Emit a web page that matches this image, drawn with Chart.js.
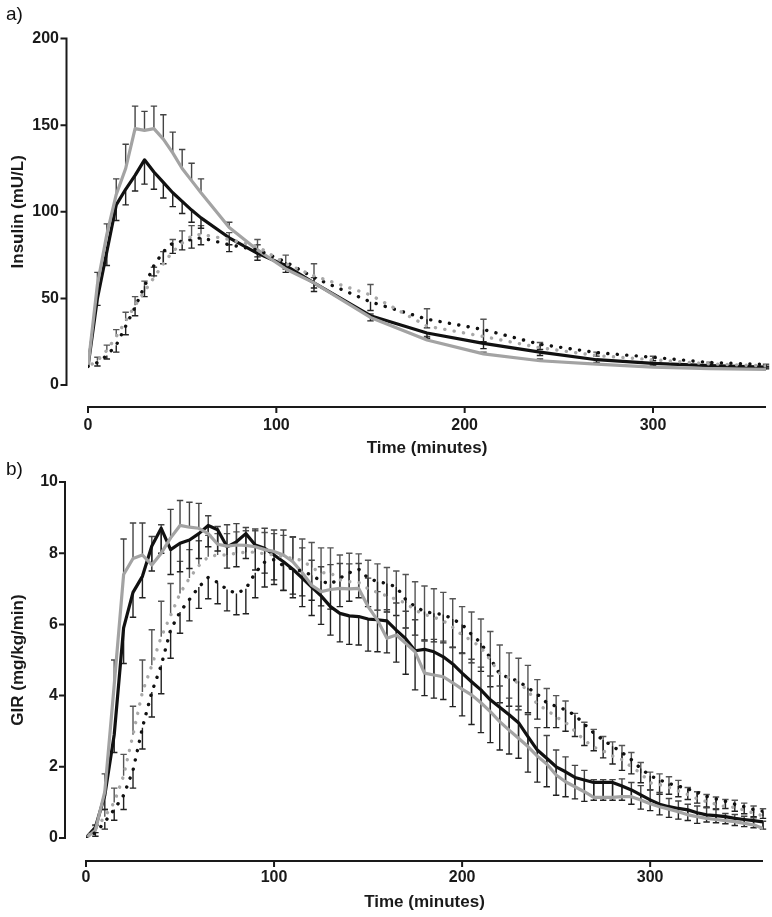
<!DOCTYPE html>
<html><head><meta charset="utf-8">
<script src="https://cdn.jsdelivr.net/npm/chart.js@4.4.1/dist/chart.umd.min.js"></script>
<style>
html,body{margin:0;padding:0;background:#fff;}
#wrap{position:relative;width:772px;height:917px;overflow:hidden;background:#fff;}
.panel{position:absolute;left:0;width:772px;}
.lab{position:absolute;font-family:"Liberation Sans",Arial,sans-serif;font-size:19px;line-height:19px;color:#111;}
</style></head><body>
<div id="wrap">
<div class="panel" style="top:0;height:460px"><canvas id="c1" width="772" height="460"></canvas></div>
<div class="panel" style="top:440px;height:477px"><canvas id="c2" width="772" height="477"></canvas></div>
<div class="lab" style="left:6px;top:4px">a)</div>
<div class="lab" style="left:6px;top:459px">b)</div>
</div>
<script>
// ---------- DATA ----------
const xTicks = [0, 100, 200, 300];
const insulinTicks = [0, 50, 100, 150, 200];
const girTicks = [0, 2, 4, 6, 8, 10];

const insulinTimes = [0,5,10,15,20,25,30,35,40,45,50,55,60,75,90,105,120,150,180,210,240,270,300,330,360];
const insulinBlackSolid  = [10.7,50,77,104,113,121,130,123,117,111,106,101,96.5,85,76,69,59,40,30,24,19,14.6,12.5,11.2,10.3];
const insulinGraySolid   = [10.7,58,87,110,125,148,147,148,142,134,125,118,111,91,78,67,59,39,26,18,14,12,10.3,9.5,9];
const insulinBlackDotted = [10.7,13,17,23,34,45,57,69,77,82,83,84,85,81,78,71,62,48,38,32,23.5,18.7,16,13,11.8];
const insulinGrayDotted  = [10.7,14,20,28,37,46,54,62,70,77,82,86,87,84,80,70,63,52,34,28,21.5,17,14.6,12.2,11];
const insulinBlackSolidErr  = [0,4,8,9,9,9,14,10,9,8,7,7,6,4,4,4,5,3,3,3,2,2,1,1,1];
const insulinGraySolidErr   = [0,7,6,9,14,13,11,13,14,12,11,10,8,3,3,3,3,2,2,1,1,1,1,1,1];
const insulinBlackDottedErr = [0,2,2,4,5,5,6,6,7,6,5,5,4,4,4,4,6,5,5,7,3,2,2,1,1];
const insulinGrayDottedErr  = [0,2,3,4,5,5,6,6,7,7,7,6,5,4,4,5,7,6,10,10,3,2,2,1,1];

const girTimes = [0,5,10,15,20,25,30,35,40,45,50,55,60,65,70,75,80,85,90,95,100,105,110,115,120,125,130,135,140,145,150,155,160,165,170,175,180,185,190,195,200,205,210,215,220,225,230,235,240,245,250,255,260,265,270,275,280,285,290,295,300,305,310,315,320,325,330,335,340,345,350,355,360];
const girBlackSolid = [0,0.3,1.2,2.9,5.9,6.9,7.35,8.2,8.7,8.1,8.28,8.37,8.55,8.78,8.66,8.18,8.32,8.55,8.23,8.14,7.95,7.76,7.55,7.3,7.05,6.8,6.5,6.31,6.24,6.22,6.15,6.13,6.1,5.84,5.6,5.26,5.3,5.23,5.09,4.89,4.63,4.39,4.16,3.88,3.67,3.46,3.24,2.85,2.47,2.24,2.0,1.86,1.7,1.63,1.56,1.56,1.56,1.46,1.35,1.21,1.07,0.95,0.88,0.83,0.79,0.71,0.65,0.63,0.6,0.55,0.52,0.49,0.45];
const girGraySolid = [0,0.22,1.3,4.3,7.4,7.85,7.95,7.67,8.0,8.43,8.78,8.73,8.7,8.55,8.25,8.2,8.23,8.22,8.18,8.1,8.05,7.95,7.76,7.45,7.1,6.92,6.98,7.01,7.0,7.01,6.5,6.12,5.61,5.7,5.47,5.23,4.63,4.58,4.53,4.36,4.18,4.02,3.8,3.55,3.27,3.03,2.8,2.57,2.3,2.08,1.77,1.58,1.44,1.3,1.14,1.14,1.14,1.16,1.16,1.07,0.96,0.88,0.81,0.74,0.65,0.6,0.55,0.52,0.49,0.46,0.41,0.37,0.27];
const girBlackDotted = [0,0.15,0.45,0.8,1.2,1.9,3.1,4.1,4.85,5.85,6.35,6.7,7.05,7.32,7.18,6.98,6.87,7.0,7.45,7.75,7.82,7.65,7.55,7.5,7.38,7.22,7.13,7.3,7.45,7.55,7.3,7.2,7.15,7.05,6.7,6.5,6.36,6.31,6.28,6.15,6.0,5.72,5.48,5.05,4.6,4.5,4.4,4.22,4.04,3.8,3.7,3.6,3.45,3.2,2.95,2.75,2.58,2.4,2.2,1.95,1.75,1.63,1.53,1.46,1.38,1.28,1.17,1.1,1.03,0.95,0.88,0.8,0.75];
const girGrayDotted = [0,0.25,0.6,1.0,1.75,2.9,4.1,4.85,5.65,6.25,6.87,7.3,7.65,7.9,7.95,7.95,8.0,8.03,8.03,7.98,7.95,7.9,7.85,7.8,7.6,7.45,7.45,7.25,7.2,7.18,7.0,6.9,6.8,6.7,6.6,6.4,6.28,6.2,6.1,5.92,5.7,5.55,5.35,5.0,4.62,4.5,4.35,4.15,3.75,3.6,3.4,3.25,3.0,2.75,2.55,2.45,2.3,2.2,2.0,1.82,1.55,1.5,1.42,1.32,1.22,1.1,1.02,0.95,0.88,0.86,0.78,0.7,0.62];
const girBlackSolidErr = [0,0.15,0.4,0.5,1.0,0.7,0.6,0.7,0.7,0.7,0.8,0.8,0.7,0.6,0.6,0.6,0.7,0.7,0.7,0.7,0.7,0.8,0.8,0.8,0.8,0.8,0.8,0.8,0.8,0.8,0.9,0.9,0.9,0.9,1.0,1.1,1.3,1.3,1.2,1.2,1.2,1.2,1.2,1.2,1.2,1.1,1.0,1.0,0.9,0.8,0.8,0.7,0.6,0.6,0.5,0.5,0.5,0.4,0.4,0.4,0.3,0.3,0.3,0.3,0.3,0.3,0.2,0.2,0.2,0.2,0.2,0.2,0.2];
const girGraySolidErr = [0,0.15,0.5,0.7,1.0,1.0,0.9,0.8,0.8,0.8,0.7,0.7,0.7,0.5,0.5,0.6,0.6,0.5,0.5,0.6,0.6,0.7,0.7,0.7,0.7,0.7,0.7,0.7,0.7,0.7,0.8,0.8,0.8,0.9,0.9,0.9,0.9,1.0,1.0,1.0,1.0,1.0,1.0,1.0,1.0,0.9,0.9,0.9,0.8,0.8,0.7,0.7,0.6,0.6,0.5,0.5,0.5,0.5,0.4,0.4,0.4,0.4,0.3,0.3,0.3,0.3,0.3,0.3,0.2,0.2,0.2,0.2,0.2];
const girBlackDottedErr = [0,0.1,0.2,0.3,0.4,0.5,0.6,0.7,0.8,0.8,0.6,0.6,0.6,0.6,0.6,0.6,0.6,0.7,0.7,0.7,0.7,0.7,0.7,0.7,0.7,0.7,0.7,0.8,0.8,0.8,0.8,0.8,0.8,0.8,0.8,0.8,0.8,0.8,0.8,0.8,0.8,0.8,0.8,0.8,0.8,0.8,0.8,0.7,0.7,0.7,0.6,0.6,0.6,0.6,0.5,0.5,0.5,0.5,0.4,0.4,0.4,0.4,0.3,0.3,0.3,0.3,0.3,0.3,0.2,0.2,0.2,0.2,0.2];
const girGrayDottedErr = [0,0.1,0.2,0.4,0.6,0.8,0.9,1.0,1.0,0.9,0.9,0.8,0.7,0.6,0.6,0.6,0.6,0.6,0.6,0.6,0.6,0.6,0.6,0.6,0.7,0.7,0.7,0.7,0.8,0.8,0.8,0.8,0.8,0.8,0.8,0.8,0.8,0.8,0.8,0.8,0.8,0.8,0.8,0.8,0.8,0.7,0.7,0.7,0.7,0.6,0.6,0.6,0.5,0.5,0.5,0.4,0.4,0.4,0.4,0.3,0.3,0.3,0.3,0.3,0.2,0.2,0.2,0.2,0.2,0.2,0.2,0.2,0.2];

// ---------- STYLE ----------
const FONT = '"Liberation Sans", Arial, Helvetica, sans-serif';
const INK = '#1a1a1a';
const BLACK = '#111111';
const GRAY = '#a3a3a3';
const GRAY_DOT = '#a8a8a8';

Chart.defaults.font.family = FONT;
Chart.defaults.color = INK;

function pts(times, vals) { return times.map((t, i) => ({x: t, y: vals[i]})); }

function makeSets(times, bs, gs, bd, gd, bsE, gsE, bdE, gdE) {
  return [
    {data: pts(times, gd), borderColor: GRAY_DOT, borderWidth: 3.4, borderDash: [0.1, 9.4], borderDashOffset: 4.7, borderCapStyle: 'round',
     errors: gdE, errDir: 1, errColor: '#555'},
    {data: pts(times, bd), borderColor: BLACK, borderWidth: 3.4, borderDash: [0.1, 9.4], borderCapStyle: 'round',
     errors: bdE, errDir: -1, errColor: '#222'},
    {data: pts(times, gs), borderColor: GRAY, borderWidth: 3.2, errors: gsE, errDir: 1, errColor: '#444'},
    {data: pts(times, bs), borderColor: BLACK, borderWidth: 3.2, errors: bsE, errDir: -1, errColor: '#222'}
  ].map(d => Object.assign({pointRadius: 0, tension: 0, fill: false, borderJoinStyle: 'round'}, d));
}

const errorBars = {
  id: 'errorBars',
  beforeDatasetsDraw(chart) {
    const ctx = chart.ctx, xs = chart.scales.x, ys = chart.scales.y;
    chart.data.datasets.forEach(ds => {
      if (!ds.errors) return;
      ctx.save();
      ctx.strokeStyle = ds.errColor; ctx.lineWidth = 1.4;
      ds.data.forEach((p, i) => {
        const e = ds.errors[i]; if (!e) return;
        const x = xs.getPixelForValue(p.x);
        const y0 = ys.getPixelForValue(p.y);
        const y1 = ys.getPixelForValue(p.y + ds.errDir * e);
        ctx.beginPath();
        ctx.moveTo(x, y0); ctx.lineTo(x, y1);
        ctx.moveTo(x - 3.2, y1); ctx.lineTo(x + 3.2, y1);
        ctx.stroke();
      });
      ctx.restore();
    });
  }
};

const offsetAxes = {
  id: 'offsetAxes',
  afterDraw(chart, args, opts) {
    const {ctx, chartArea} = chart;
    const xs = chart.scales.x, ys = chart.scales.y;
    const ax = chartArea.left - opts.gapX, ay = chartArea.bottom + opts.gapY;
    ctx.save();
    ctx.strokeStyle = INK; ctx.lineWidth = 2;
    ctx.beginPath();
    ctx.moveTo(ax, ys.getPixelForValue(ys.max) - 1); ctx.lineTo(ax, ys.getPixelForValue(ys.min) + 1);
    ys.ticks.forEach(t => { const y = ys.getPixelForValue(t.value); ctx.moveTo(ax - 6, y); ctx.lineTo(ax, y); });
    ctx.moveTo(xs.getPixelForValue(xs.min) - 1, ay); ctx.lineTo(xs.getPixelForValue(xs.max), ay);
    xs.ticks.forEach(t => { const x = xs.getPixelForValue(t.value); ctx.moveTo(x, ay); ctx.lineTo(x, ay + 6); });
    ctx.stroke();
    ctx.restore();
  }
};

function makeChart(id, cfg) {
  return new Chart(document.getElementById(id), {
    type: 'line',
    data: {datasets: cfg.datasets},
    plugins: [errorBars, offsetAxes],
    options: {
      responsive: false, animation: false, events: [],
      layout: {padding: {top: cfg.top, right: cfg.right, left: 0, bottom: 0}},
      plugins: {legend: {display: false}, tooltip: {enabled: false},
                offsetAxes: {gapX: cfg.gapX, gapY: cfg.gapY}},
      scales: {
        x: {
          type: 'linear', min: 0, max: 360,
          afterBuildTicks: s => { s.ticks = xTicks.map(v => ({value: v})); },
          afterFit: s => { s.height = cfg.xH; },
          grid: {display: false, drawTicks: false}, border: {display: false},
          ticks: {padding: cfg.xTickPad, font: {size: 16, weight: 'bold'}, color: INK, maxRotation: 0, autoSkip: false},
          title: {display: true, text: 'Time (minutes)', font: {size: 17, weight: 'bold'}, color: INK,
                  padding: {top: 0, bottom: cfg.xTitlePad}}
        },
        y: {
          type: 'linear', min: cfg.yMin, max: cfg.yMax,
          afterBuildTicks: s => { s.ticks = cfg.yTicks.map(v => ({value: v})); },
          afterFit: s => { s.width = cfg.yW; },
          grid: {display: false, drawTicks: false}, border: {display: false},
          ticks: {padding: cfg.yTickPad, font: {size: 16, weight: 'bold'}, color: INK},
          title: {display: true, text: cfg.yTitle, font: {size: 17, weight: 'bold'}, color: INK,
                  padding: {top: 8, bottom: 0}}
        }
      }
    }
  });
}

makeChart('c1', {
  datasets: makeSets(insulinTimes, insulinBlackSolid, insulinGraySolid, insulinBlackDotted, insulinGrayDotted,
                     insulinBlackSolidErr, insulinGraySolidErr, insulinBlackDottedErr, insulinGrayDottedErr),
  top: 29, right: 6, xH: 75, yW: 88, gapX: 21.5, gapY: 22,
  xTickPad: 31, xTitlePad: 1, yTickPad: 29,
  yMin: 0, yMax: 200, yTicks: insulinTicks, yTitle: 'Insulin (mU/L)'
});

makeChart('c2', {
  datasets: makeSets(girTimes, girBlackSolid, girGraySolid, girBlackDotted, girGrayDotted,
                     girBlackSolidErr, girGraySolidErr, girBlackDottedErr, girGrayDottedErr),
  top: 42, right: 9, xH: 79, yW: 86, gapX: 21, gapY: 23,
  xTickPad: 30, xTitlePad: 4, yTickPad: 28,
  yMin: 0, yMax: 10, yTicks: girTicks, yTitle: 'GIR (mg/kg/min)'
});
</script>
</body></html>
